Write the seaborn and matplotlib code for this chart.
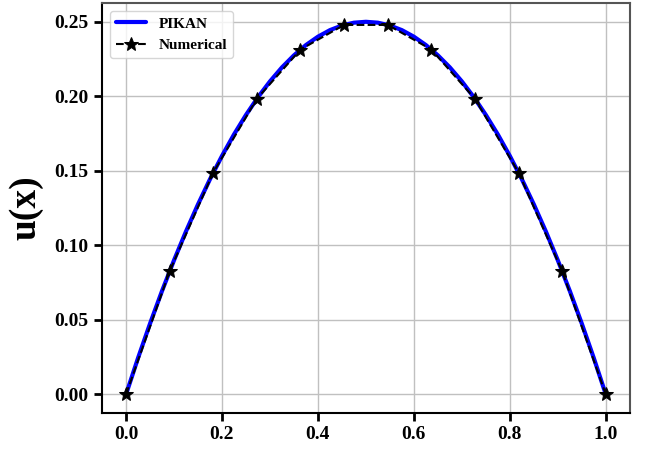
import matplotlib
matplotlib.use("Agg")
import matplotlib.pyplot as plt
import seaborn as sns
import pandas as pd

# ======================================================
# Data
# ======================================================
x_pikan = [0.000, 0.025, 0.050, 0.075, 0.100, 0.125, 0.150, 0.175, 0.200, 0.225,
           0.250, 0.275, 0.300, 0.325, 0.350, 0.375, 0.400, 0.425, 0.450, 0.475,
           0.500, 0.525, 0.550, 0.575, 0.600, 0.625, 0.650, 0.675, 0.700, 0.725,
           0.750, 0.775, 0.800, 0.825, 0.850, 0.875, 0.900, 0.925, 0.950, 0.975, 1.000]
u_pikan = [0.0000, 0.0244, 0.0475, 0.0694, 0.0900, 0.1094, 0.1275, 0.1444, 0.1600, 0.1744,
           0.1875, 0.1994, 0.2100, 0.2194, 0.2275, 0.2344, 0.2400, 0.2444, 0.2475, 0.2494,
           0.2500, 0.2494, 0.2475, 0.2444, 0.2400, 0.2344, 0.2275, 0.2194, 0.2100, 0.1994,
           0.1875, 0.1744, 0.1600, 0.1444, 0.1275, 0.1094, 0.0900, 0.0694, 0.0475, 0.0244, 0.0000]

x_num = [0.0000, 0.0909, 0.1818, 0.2727, 0.3636, 0.4545,
         0.5455, 0.6364, 0.7273, 0.8182, 0.9091, 1.0000]
u_num = [0.0000, 0.0826, 0.1488, 0.1983, 0.2314, 0.2479,
         0.2479, 0.2314, 0.1983, 0.1488, 0.0826, 0.0000]

# ======================================================
# Config
# ======================================================
sns.set_style("ticks")
plt.rcParams["font.family"] = ["Liberation Serif", "DejaVu Serif"]
plt.rcParams["font.weight"] = "bold"
for key in ["text.color", "axes.labelcolor", "xtick.color", "ytick.color"]:
    plt.rcParams[key] = "black"

df_pikan = pd.DataFrame({"x": x_pikan, "u": u_pikan})
df_num = pd.DataFrame({"x": x_num, "u": u_num})

fig = plt.figure(figsize=(6.54, 4.51), dpi=100)
ax = fig.add_axes([0.156, 0.084, 0.807, 0.909])

sns.lineplot(data=df_pikan, x="x", y="u", ax=ax, color="#0000ff", linewidth=3,
             label="PIKAN", zorder=2)
sns.lineplot(data=df_num, x="x", y="u", ax=ax, color="black", linewidth=1.5,
             linestyle="--", marker="*", markersize=10, markeredgecolor="black",
             label="Numerical", zorder=3)

ax.grid(True, color="#c0c0c0", linewidth=1)
ax.set_axisbelow(True)
ax.set_xlabel("")
ax.set_ylabel("u(x)", fontsize=27, fontweight="bold", labelpad=8, color="black")
ax.set_xticks([0.0, 0.2, 0.4, 0.6, 0.8, 1.0])
ax.set_yticks([0.0, 0.05, 0.10, 0.15, 0.20, 0.25])
ax.set_yticklabels(["0.00", "0.05", "0.10", "0.15", "0.20", "0.25"])
ax.set_xlim(-0.05, 1.05)
ax.set_ylim(-0.0125, 0.2625)
ax.tick_params(axis="both", labelsize=14, width=2, length=6, color="black",
               labelcolor="black")
for lab in ax.get_xticklabels() + ax.get_yticklabels():
    lab.set_fontweight("bold")

for s in ["left", "bottom"]:
    ax.spines[s].set_color("black")
    ax.spines[s].set_linewidth(1.5)
for s in ["top", "right"]:
    ax.spines[s].set_color("#555555")
    ax.spines[s].set_linewidth(1.5)

leg = ax.legend(loc="upper left", prop={"weight": "bold", "size": 11}, framealpha=0.8)
for t in leg.get_texts():
    t.set_color("black")

fig.savefig("out.png", dpi=100)
